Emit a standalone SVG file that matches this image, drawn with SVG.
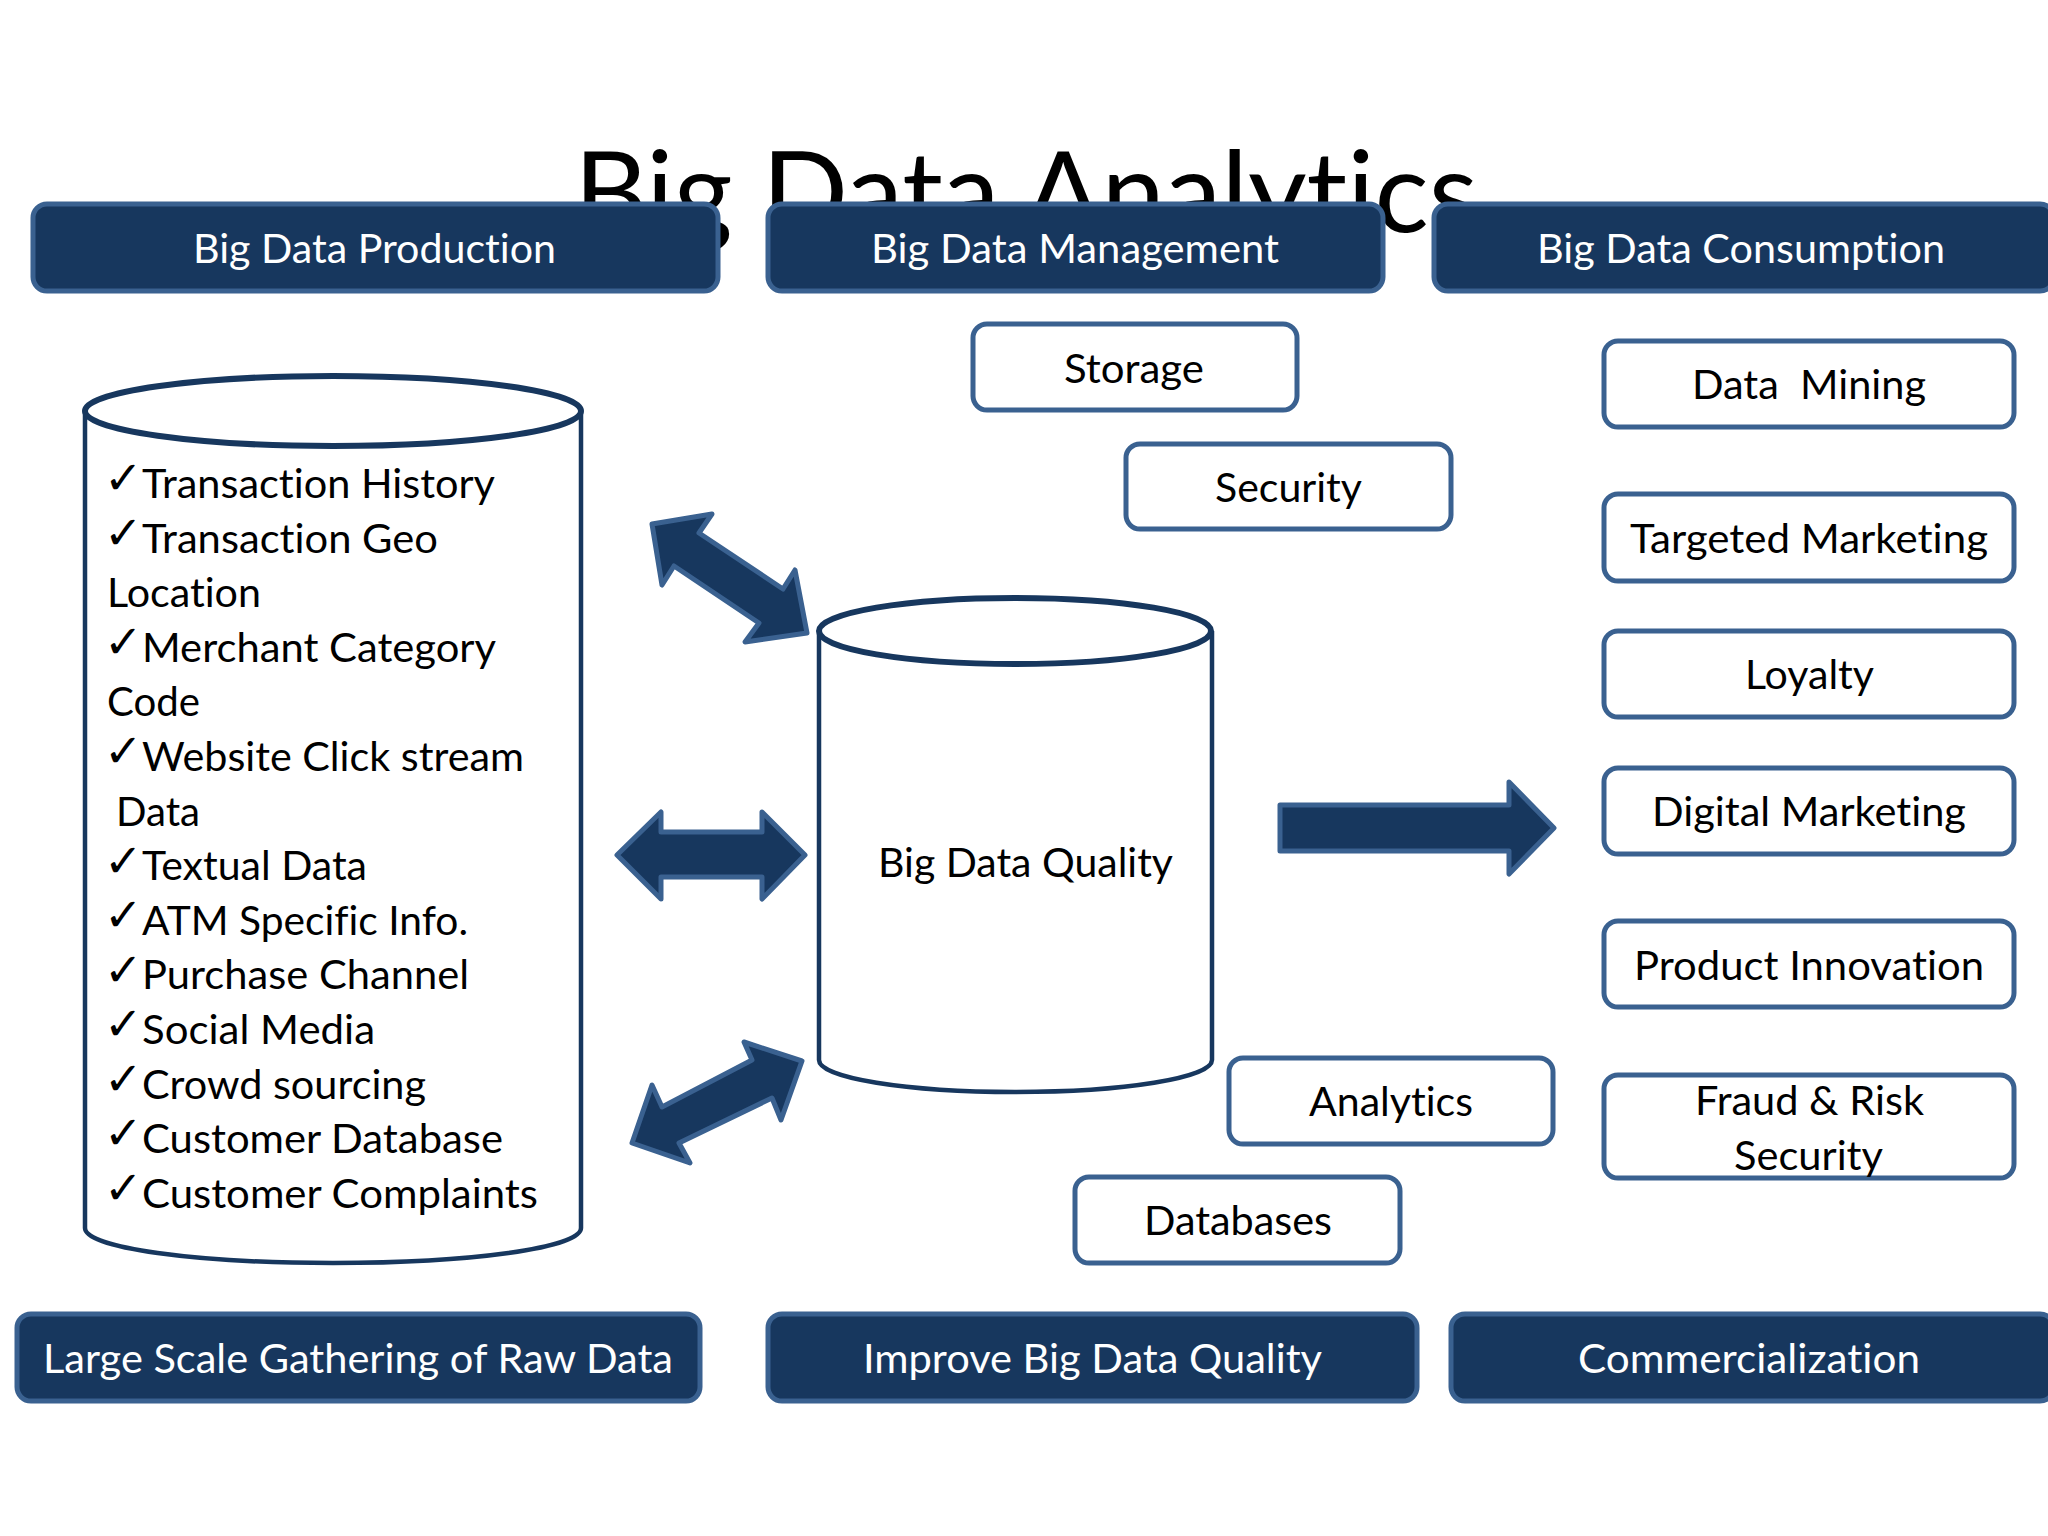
<svg xmlns="http://www.w3.org/2000/svg" width="2048" height="1536" viewBox="0 0 2048 1536">
<style>
text{font-family:Lato,"Liberation Sans",sans-serif;font-size:41px;fill:#000;white-space:pre;font-variant-ligatures:none}
.title{font-size:112px}
.hd rect{fill:#17375e;stroke:#3a6190;stroke-width:5}
.hd text{fill:#fff}
.bx rect{fill:#fff;stroke:#3a6190;stroke-width:5}
.cyl path{fill:#fff;stroke:#17375e;stroke-width:4.5}
.cyl ellipse{fill:#fff;stroke:#17375e;stroke-width:6}
.ck{font-family:"DejaVu Sans",sans-serif;font-size:46px}
.ar polygon{fill:#17375e;stroke:#3a6190;stroke-width:5;stroke-linejoin:round}
</style>
<rect width="2048" height="1536" fill="#fff"/>
<text id="title" class="title" x="574" y="232" textLength="904" lengthAdjust="spacingAndGlyphs">Big Data Analytics</text>

<g id="head-production" class="hd"><rect x="33" y="204" width="685" height="87" rx="14"/><text x="193" y="263" textLength="363" lengthAdjust="spacingAndGlyphs">Big Data Production</text></g>
<g id="head-management" class="hd"><rect x="768" y="204" width="615" height="87" rx="14"/><text x="871" y="263" textLength="408" lengthAdjust="spacingAndGlyphs">Big Data Management</text></g>
<g id="head-consumption" class="hd"><rect x="1434" y="204" width="620" height="87" rx="14"/><text x="1537" y="263" textLength="408" lengthAdjust="spacingAndGlyphs">Big Data Consumption</text></g>

<g id="storage" class="bx"><rect x="973" y="324" width="324" height="86" rx="14"/><text x="1064" y="383" textLength="140" lengthAdjust="spacingAndGlyphs">Storage</text></g>
<g id="security" class="bx"><rect x="1126" y="444" width="325" height="85" rx="14"/><text x="1215" y="502" textLength="147" lengthAdjust="spacingAndGlyphs">Security</text></g>
<g id="analytics" class="bx"><rect x="1229" y="1058" width="324" height="86" rx="14"/><text x="1309" y="1116" textLength="164" lengthAdjust="spacingAndGlyphs">Analytics</text></g>
<g id="databases" class="bx"><rect x="1075" y="1177" width="325" height="86" rx="14"/><text x="1144" y="1235" textLength="188" lengthAdjust="spacingAndGlyphs">Databases</text></g>

<g id="data-mining" class="bx"><rect x="1604" y="341" width="410" height="86" rx="14"/><text x="1692" y="399" textLength="234" lengthAdjust="spacingAndGlyphs">Data  Mining</text></g>
<g id="targeted-marketing" class="bx"><rect x="1604" y="494" width="410" height="87" rx="14"/><text x="1630" y="553" textLength="358" lengthAdjust="spacingAndGlyphs">Targeted Marketing</text></g>
<g id="loyalty" class="bx"><rect x="1604" y="631" width="410" height="86" rx="14"/><text x="1745" y="689" textLength="129" lengthAdjust="spacingAndGlyphs">Loyalty</text></g>
<g id="digital-marketing" class="bx"><rect x="1604" y="768" width="410" height="86" rx="14"/><text x="1652" y="826" textLength="314" lengthAdjust="spacingAndGlyphs">Digital Marketing</text></g>
<g id="product-innovation" class="bx"><rect x="1604" y="921" width="410" height="86" rx="14"/><text x="1634" y="980" textLength="350" lengthAdjust="spacingAndGlyphs">Product Innovation</text></g>
<g id="fraud-risk" class="bx"><rect x="1604" y="1075" width="410" height="103" rx="14"/><text x="1695" y="1115" textLength="229" lengthAdjust="spacingAndGlyphs">Fraud &amp; Risk</text><text x="1734" y="1170" textLength="149" lengthAdjust="spacingAndGlyphs">Security</text></g>

<g id="cylinder-sources" class="cyl">
<path d="M85,411V1228C85,1248 196,1263 333,1263S581,1248 581,1228V411"/>
<ellipse cx="333" cy="411" rx="248" ry="35"/>
<text class="ck" x="104" y="494">✓</text><text x="142" y="498" textLength="353" lengthAdjust="spacingAndGlyphs">Transaction History</text>
<text class="ck" x="104" y="549">✓</text><text x="142" y="553" textLength="296" lengthAdjust="spacingAndGlyphs">Transaction Geo</text>
<text x="107" y="607" textLength="154" lengthAdjust="spacingAndGlyphs">Location</text>
<text class="ck" x="104" y="658">✓</text><text x="142" y="662" textLength="354" lengthAdjust="spacingAndGlyphs">Merchant Category</text>
<text x="107" y="716" textLength="93" lengthAdjust="spacingAndGlyphs">Code</text>
<text class="ck" x="104" y="767">✓</text><text x="142" y="771" textLength="382" lengthAdjust="spacingAndGlyphs">Website Click stream</text>
<text x="116" y="826" textLength="84" lengthAdjust="spacingAndGlyphs">Data</text>
<text class="ck" x="104" y="877">✓</text><text x="142" y="880" textLength="225" lengthAdjust="spacingAndGlyphs">Textual Data</text>
<text class="ck" x="104" y="931">✓</text><text x="142" y="935" textLength="326" lengthAdjust="spacingAndGlyphs">ATM Specific Info.</text>
<text class="ck" x="104" y="986">✓</text><text x="142" y="989" textLength="327" lengthAdjust="spacingAndGlyphs">Purchase Channel</text>
<text class="ck" x="104" y="1040">✓</text><text x="142" y="1044" textLength="233" lengthAdjust="spacingAndGlyphs">Social Media</text>
<text class="ck" x="104" y="1095">✓</text><text x="142" y="1099" textLength="284" lengthAdjust="spacingAndGlyphs">Crowd sourcing</text>
<text class="ck" x="104" y="1149">✓</text><text x="142" y="1153" textLength="361" lengthAdjust="spacingAndGlyphs">Customer Database</text>
<text class="ck" x="104" y="1204">✓</text><text x="142" y="1208" textLength="396" lengthAdjust="spacingAndGlyphs">Customer Complaints</text>
</g>

<g id="cylinder-quality" class="cyl">
<path d="M819,631V1060C819,1078 907,1092 1015,1092S1212,1078 1212,1060V631"/>
<ellipse cx="1015" cy="631" rx="196" ry="33"/>
<text x="878" y="877" textLength="295" lengthAdjust="spacingAndGlyphs">Big Data Quality</text>
</g>

<g id="connectors" class="ar">
<polygon points="652,524 712,514 699,533 783,589 795,570 807,633 745,642 759,623 674,566 662,585"/>
<polygon points="617,855 661,812 661,832 762,832 762,812 805,855 762,899 762,877 661,877 661,899"/>
<polygon points="1280,805 1509,805 1509,782 1554,828 1509,874 1509,851 1280,851"/>
<polygon points="802,1061 744,1042 752,1060 662,1107 652,1085 632,1143 690,1163 679,1143 772,1098 781,1120"/>
</g>

<g id="foot-gathering" class="hd"><rect x="17" y="1314" width="683" height="87" rx="14"/><text x="43" y="1373" textLength="630" lengthAdjust="spacingAndGlyphs">Large Scale Gathering of Raw Data</text></g>
<g id="foot-quality" class="hd"><rect x="768" y="1314" width="649" height="87" rx="14"/><text x="863" y="1373" textLength="459" lengthAdjust="spacingAndGlyphs">Improve Big Data Quality</text></g>
<g id="foot-commercial" class="hd"><rect x="1451" y="1314" width="603" height="87" rx="14"/><text x="1578" y="1373" textLength="342" lengthAdjust="spacingAndGlyphs">Commercialization</text></g>
</svg>
